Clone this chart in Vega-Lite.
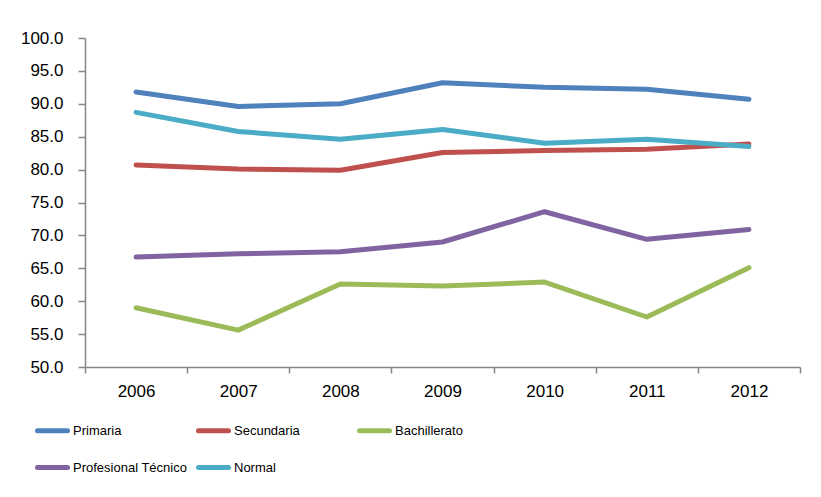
{
  "$schema": "https://vega.github.io/schema/vega-lite/v6.json",
  "autosize": "none",
  "width": 715,
  "height": 329,
  "padding": {"left": 85, "top": 38, "right": 21, "bottom": 130},
  "background": "white",
  "config": {"view": {"stroke": null}},
  "data": {"values": [
    {"serie": "Primaria", "year": "2006", "value": 91.8},
    {"serie": "Primaria", "year": "2007", "value": 89.6},
    {"serie": "Primaria", "year": "2008", "value": 90.0},
    {"serie": "Primaria", "year": "2009", "value": 93.2},
    {"serie": "Primaria", "year": "2010", "value": 92.5},
    {"serie": "Primaria", "year": "2011", "value": 92.2},
    {"serie": "Primaria", "year": "2012", "value": 90.7},
    {"serie": "Secundaria", "year": "2006", "value": 80.7},
    {"serie": "Secundaria", "year": "2007", "value": 80.1},
    {"serie": "Secundaria", "year": "2008", "value": 79.9},
    {"serie": "Secundaria", "year": "2009", "value": 82.6},
    {"serie": "Secundaria", "year": "2010", "value": 82.9},
    {"serie": "Secundaria", "year": "2011", "value": 83.1},
    {"serie": "Secundaria", "year": "2012", "value": 83.9},
    {"serie": "Bachillerato", "year": "2006", "value": 59.0},
    {"serie": "Bachillerato", "year": "2007", "value": 55.6},
    {"serie": "Bachillerato", "year": "2008", "value": 62.6},
    {"serie": "Bachillerato", "year": "2009", "value": 62.3},
    {"serie": "Bachillerato", "year": "2010", "value": 62.9},
    {"serie": "Bachillerato", "year": "2011", "value": 57.6},
    {"serie": "Bachillerato", "year": "2012", "value": 65.1},
    {"serie": "Profesional Técnico", "year": "2006", "value": 66.7},
    {"serie": "Profesional Técnico", "year": "2007", "value": 67.2},
    {"serie": "Profesional Técnico", "year": "2008", "value": 67.5},
    {"serie": "Profesional Técnico", "year": "2009", "value": 69.0},
    {"serie": "Profesional Técnico", "year": "2010", "value": 73.6},
    {"serie": "Profesional Técnico", "year": "2011", "value": 69.4},
    {"serie": "Profesional Técnico", "year": "2012", "value": 70.9},
    {"serie": "Normal", "year": "2006", "value": 88.7},
    {"serie": "Normal", "year": "2007", "value": 85.8},
    {"serie": "Normal", "year": "2008", "value": 84.6},
    {"serie": "Normal", "year": "2009", "value": 86.1},
    {"serie": "Normal", "year": "2010", "value": 84.0},
    {"serie": "Normal", "year": "2011", "value": 84.6},
    {"serie": "Normal", "year": "2012", "value": 83.5}
  ]},
  "mark": {"type": "line", "strokeWidth": 5, "strokeCap": "round", "strokeJoin": "round"},
  "encoding": {
    "x": {
      "field": "year", "type": "ordinal", "bandPosition": 0.5,
      "scale": {"type": "band", "paddingInner": 0, "paddingOuter": 0},
      "axis": {
        "title": null, "labelAngle": 0, "tickBand": "extent",
        "domainColor": "#868686", "domainWidth": 1.5,
        "tickColor": "#868686", "tickWidth": 1.5, "tickSize": 6,
        "labelPadding": 10, "labelFont": "Liberation Sans", "labelFontSize": 17,
        "labelColor": "black"
      }
    },
    "y": {
      "field": "value", "type": "quantitative",
      "scale": {"domain": [50, 100], "nice": false, "zero": false},
      "axis": {
        "title": null, "values": [50, 55, 60, 65, 70, 75, 80, 85, 90, 95, 100],
        "format": ".1f", "grid": false,
        "domainColor": "#868686", "domainWidth": 1.5,
        "tickColor": "#868686", "tickWidth": 1.5, "tickSize": 7,
        "labelPadding": 15, "labelFont": "Liberation Sans", "labelFontSize": 17,
        "labelColor": "black"
      }
    },
    "color": {
      "field": "serie", "type": "nominal",
      "scale": {
        "domain": ["Primaria", "Secundaria", "Bachillerato", "Profesional Técnico", "Normal"],
        "range": ["#4F81BD", "#C0504D", "#9BBB59", "#8064A2", "#4BACC6"]
      },
      "legend": {
        "title": null, "orient": "none", "legendX": -50, "legendY": 375,
        "direction": "horizontal", "columns": 3, "gridAlign": "all",
        "columnPadding": 0, "rowPadding": 9,
        "symbolType": "stroke", "symbolSize": 900, "symbolStrokeWidth": 5,
        "labelOffset": 3, "labelFont": "Liberation Sans", "labelFontSize": 13,
        "labelColor": "black",
        "encode": {"symbols": {"update": {"strokeCap": {"value": "round"}}}}
      }
    }
  }
}
